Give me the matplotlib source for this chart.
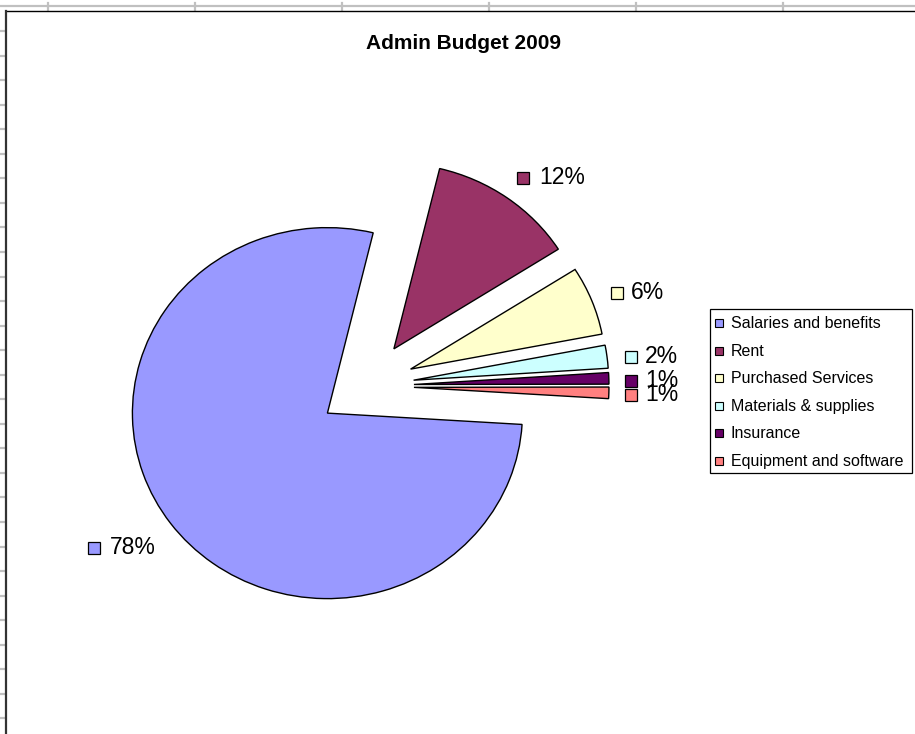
import matplotlib
matplotlib.use('Agg')
import matplotlib.pyplot as plt
from matplotlib.patches import Rectangle
from matplotlib.lines import Line2D
import matplotlib.transforms as mtransforms

# ---- data ----
title = "Admin Budget 2009"
categories = ["Salaries and benefits", "Rent", "Purchased Services",
              "Materials & supplies", "Insurance", "Equipment and software"]
values = [77.8, 12.2, 6.0, 2.0, 1.0, 1.0]
colors = ['#9999FF', '#993366', '#FFFFCC', '#CCFFFF', '#660066', '#FF8080']

plt.rcParams['font.family'] = ['Liberation Sans', 'DejaVu Sans']

W, H = 915, 734
fig = plt.figure(figsize=(W / 100, H / 100), dpi=100)
fig.patch.set_facecolor('white')
# pixel transform: (x from left, y from top)
px = mtransforms.Affine2D().scale(1 / W, -1 / H).translate(0, 1) + fig.transFigure

# ---- spreadsheet background ----
grid_col = '#C0C0C0'
fig.add_artist(Line2D([0, W], [6, 6], transform=px, color=grid_col, lw=1.6))
for x in [48, 195, 342, 489, 636, 783]:
    fig.add_artist(Line2D([x, x], [3, 10], transform=px, color=grid_col, lw=1.6))
y = 31.0
while y < H:
    fig.add_artist(Line2D([0, 5], [y, y], transform=px, color=grid_col, lw=1.6))
    y += 24.55
# chart area border
fig.add_artist(Line2D([6, W], [10.5, 10.5], transform=px, color='black', lw=1.0))
fig.add_artist(Line2D([6, 6], [10.5, H], transform=px, color='#333333', lw=1.6))

# ---- pie ----
ax = fig.add_axes([0, 0, 1, 1])
wedges, _ = ax.pie(values, colors=colors, startangle=-3.5, counterclock=False,
                   explode=[0.246] * len(values),
                   wedgeprops=dict(edgecolor='black', linewidth=1.0))
ax.set_aspect('auto')
cx, cy, rx, ry = 366, 386, 195, 185.5
ax.set_xlim(-cx / rx, (W - cx) / rx)
ax.set_ylim((cy - H) / ry, cy / ry)
ax.axis('off')

# ---- title ----
fig.text(463, 49, title, transform=px, ha='center', va='baseline',
         fontsize=15, fontweight='bold')

# ---- data labels (Excel style: legend key + percent) ----
label_pos = [(88, 554, 110), (517, 184, 539), (611, 299, 631),
             (625, 363, 645), (625, 387, 645), (625, 401, 645)]
sq = 12
for (sx, sb, tx), v, c in zip(label_pos, values, colors):
    fig.add_artist(Rectangle((sx, sb), sq, -sq, transform=px, facecolor=c,
                             edgecolor='black', lw=0.9))
    fig.text(tx, sb, f"{round(v)}%", transform=px, ha='left', va='baseline',
             fontsize=16.5)

# ---- legend ----
fig.add_artist(Rectangle((710, 309), 202, 164, transform=px, facecolor='white',
                         edgecolor='black', lw=0.9))
entry_y = [323, 351, 378, 406, 433, 461]
for yy, name, c in zip(entry_y, categories, colors):
    fig.add_artist(Rectangle((715, yy + 4), 8, -8, transform=px, facecolor=c,
                             edgecolor='black', lw=0.8))
    fig.text(731, yy + 5, name, transform=px, ha='left', va='baseline',
             fontsize=11.5)

fig.savefig('out.png', dpi=100)
